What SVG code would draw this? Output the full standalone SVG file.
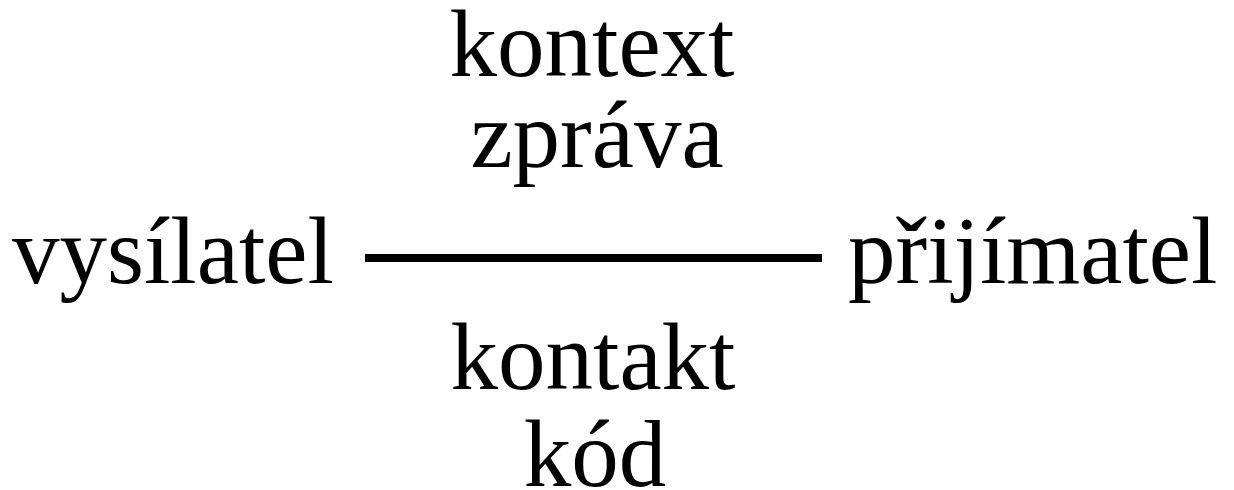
<svg xmlns="http://www.w3.org/2000/svg" width="1234" height="490" viewBox="0 0 1234 490">
<style>
.t{font-family:"Liberation Serif","Times New Roman",serif;font-size:95px;fill:#000}
.m{text-anchor:middle}
.c{stroke:#000;stroke-width:8;fill:none}
</style>
<rect width="1234" height="490" fill="#fff"/>
<g id="kontext"><text class="t m" x="592" y="76">kontext</text></g>
<g id="zprava"><text class="t m" x="597" y="167">zpráva</text></g>
<g id="vysilatel"><text class="t" x="12" y="283">vysílatel</text></g>
<g id="prijimatel"><text class="t" x="848" y="283">přijímatel</text></g>
<g id="kontakt"><text class="t m" x="593" y="389">kontakt</text></g>
<g id="kod"><text class="t m" x="595" y="486">kód</text></g>
<g id="connectors"><line class="c" x1="365" y1="258" x2="822" y2="258"/></g>
</svg>
